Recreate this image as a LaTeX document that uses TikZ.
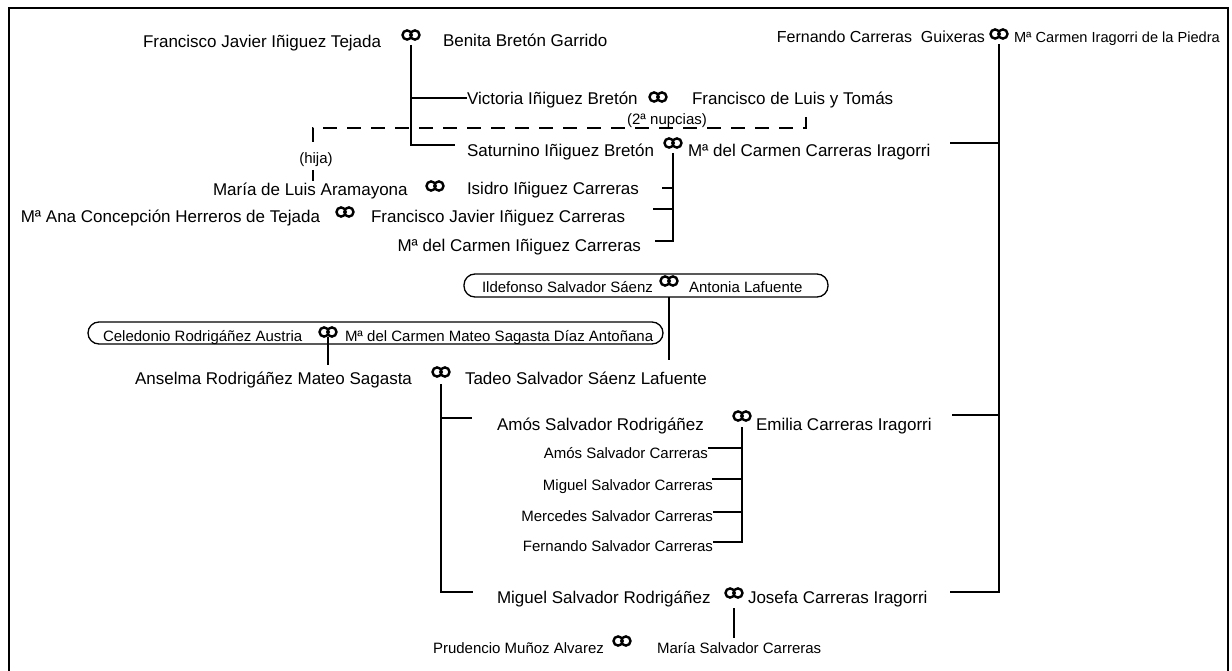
\documentclass[tikz,border=0pt]{standalone}
\usepackage{fontspec}
\setmainfont{Liberation Sans}
\tikzset{
  marr/.pic={\draw[line width=2.4pt] (-3.9pt,0) circle (4.6pt) (3.9pt,0) circle (4.6pt); \coordinate (-c) at (0,0);},
  big/.style={font=\fontsize{17}{20}\selectfont},
  med/.style={font=\fontsize{15}{17}\selectfont},
  ln/.style={line width=1.3pt},
  dsh/.style={line width=1.3pt, dash pattern=on 14pt off 10pt},
  fambox/.style={draw, line width=1.3pt, rounded corners=11pt},
}
\begin{document}
\begin{tikzpicture}[x=1pt,y=-1pt, every node/.style={inner sep=0pt, outer sep=0pt}]
\useasboundingbox (0,0) rectangle (1232,671);
% frame
\draw[line width=1.8pt] (9,671) -- (9,8) -- (1228,8) -- (1228,671);

% row 1
\node[big, anchor=base west] (fjit) at (143,48) {Francisco Javier Iñiguez Tejada};
\pic (m1) at (411,35) {marr};
\node[big, anchor=base west] (bbg) at (443,47) {Benita Bretón Garrido};
\node[med, anchor=base east] (fcg) at (985,43) {\fontsize{16}{18}\selectfont Fernando Carreras\ \ Guixeras};
\pic (m3) at (999,34) {marr};
\node[anchor=base west, font=\fontsize{14.6}{17}\selectfont] (mci) at (1014,43) {Mª Carmen Iragorri de la Piedra};

% Victoria
\node[big, anchor=base west] (vib) at (467,105) {Victoria Iñiguez Bretón};
\pic (m2) at (658,97) {marr};
\node[big, anchor=base west] (fdl) at (692,105) {Francisco de Luis y Tomás};
\node[med, anchor=base] (nup) at (667,125) {(2ª nupcias)};

% Saturnino
\node[big, anchor=base west] (sib) at (467,157) {Saturnino Iñiguez Bretón};
\pic (m4) at (673,143) {marr};
\node[big, anchor=base west] (mcc) at (688,157) {Mª del Carmen Carreras Iragorri};

% hija
\node[med, anchor=base] (hija) at (316,164) {(hija)};
\node[big, anchor=base west] (mla) at (213,196) {María de Luis Aramayona};
\pic (m5) at (435,186) {marr};
\node[big, anchor=base west] (iic) at (467,195) {Isidro Iñiguez Carreras};

\node[big, anchor=base east] (ach) at (320,223) {Mª Ana Concepción Herreros de Tejada};
\pic (m6) at (345,212) {marr};
\node[big, anchor=base west] (fjic) at (371,223) {Francisco Javier Iñiguez Carreras};
\node[big, anchor=base east] (mcic) at (641,252) {Mª del Carmen Iñiguez Carreras};

% Ildefonso box
\node[fambox, minimum width=364pt, minimum height=23pt] (box1) at (646,285.5) {};
\node[med, anchor=base west] (iss) at (482,292) {Ildefonso Salvador Sáenz};
\pic (m7) at (669,281) {marr};
\node[med, anchor=base west] (alf) at (689,292) {Antonia Lafuente};

% Celedonio box
\node[fambox, minimum width=575pt, minimum height=22pt] (box2) at (375.5,333) {};
\node[med, anchor=base west] (cra) at (103,341) {Celedonio Rodrigáñez Austria};
\pic (m8) at (328,332) {marr};
\node[med, anchor=base west] (mms) at (345,341) {Mª del Carmen Mateo Sagasta Díaz Antoñana};

% Anselma / Tadeo
\node[big, anchor=base east] (ars) at (412,384) {Anselma Rodrigáñez Mateo Sagasta};
\pic (m9) at (441,372) {marr};
\node[big, anchor=base west] (tss) at (465,384) {Tadeo Salvador Sáenz Lafuente};

% Amós / Emilia
\node[big, anchor=base west] (asr) at (497,430) {Amós Salvador Rodrigáñez};
\pic (m10) at (742,416) {marr};
\node[big, anchor=base west] (eci) at (756,430) {Emilia Carreras Iragorri};
\node[med, anchor=base east] (asc) at (708,458) {Amós Salvador Carreras};
\node[med, anchor=base east] (msc) at (713,490) {Miguel Salvador Carreras};
\node[med, anchor=base east] (mesc) at (713,521) {Mercedes Salvador Carreras};
\node[med, anchor=base east] (fsc) at (713,551) {Fernando Salvador Carreras};

% Miguel / Josefa
\node[big, anchor=base west] (msr) at (497,603) {Miguel Salvador Rodrigáñez};
\pic (m11) at (734,593) {marr};
\node[big, anchor=base west] (jci) at (748,603) {Josefa Carreras Iragorri};
\node[med, anchor=base west] (pma) at (433,653) {Prudencio Muñoz Alvarez};
\pic (m12) at (622,641) {marr};
\node[med, anchor=base west] (msc2) at (657,653) {María Salvador Carreras};

% ---- connectors ----
% Iñiguez-Bretón children
\coordinate (ib1) at (411,98);
\coordinate (ib2) at (411,145);
\draw[ln] ([yshift=-10pt]m1-c) -- (ib2) -- ([xshift=-12pt]sib.west |- ib2);
\draw[ln] (ib1) -- (vib.west |- ib1);
% second marriage dashed
\coordinate (dA) at (313,142);
\coordinate (dB) at (806,113);
\draw[dsh] (dA) -- (313,128) -- (806,128) -- (dB);
\coordinate (hB) at (313,181);
\draw[ln] (313,170) -- (hB);
% Saturnino children
\coordinate (s4) at (673,241);
\draw[ln] ([yshift=-10pt]m4-c) -- (s4) -- (655,241);
\draw[ln] (662,188) -- (673,188);
\draw[ln] (653,209) -- (673,209);
% Carreras-Iragorri children
\coordinate (f1) at (999,592);
\draw[ln] ([yshift=-10pt]m3-c) -- (f1) -- (950,592);
\draw[ln] (950,143) -- (999,143);
\draw[ln] (952,415) -- (999,415);
% Ildefonso -> Tadeo
\draw[ln] (box1.south -| m7-c) -- (669,360);
% Celedonio -> Anselma
\draw[ln] ([yshift=-5pt]m8-c) -- (328,365);
% Tadeo children
\coordinate (t1) at (441,592);
\draw[ln] ([yshift=-12pt]m9-c) -- (t1) -- (473,592);
\draw[ln] (441,418) -- (472,418);
% Amós children
\coordinate (a1) at (742,542);
\draw[ln] ([yshift=-11pt]m10-c) -- (a1) -- (713,542);
\draw[ln] (708,448) -- (742,448);
\draw[ln] (712,479) -- (742,479);
\draw[ln] (713,512) -- (742,512);
% Miguel child
\draw[ln] ([yshift=-15pt]m11-c) -- (734,638);
\end{tikzpicture}
\end{document}
